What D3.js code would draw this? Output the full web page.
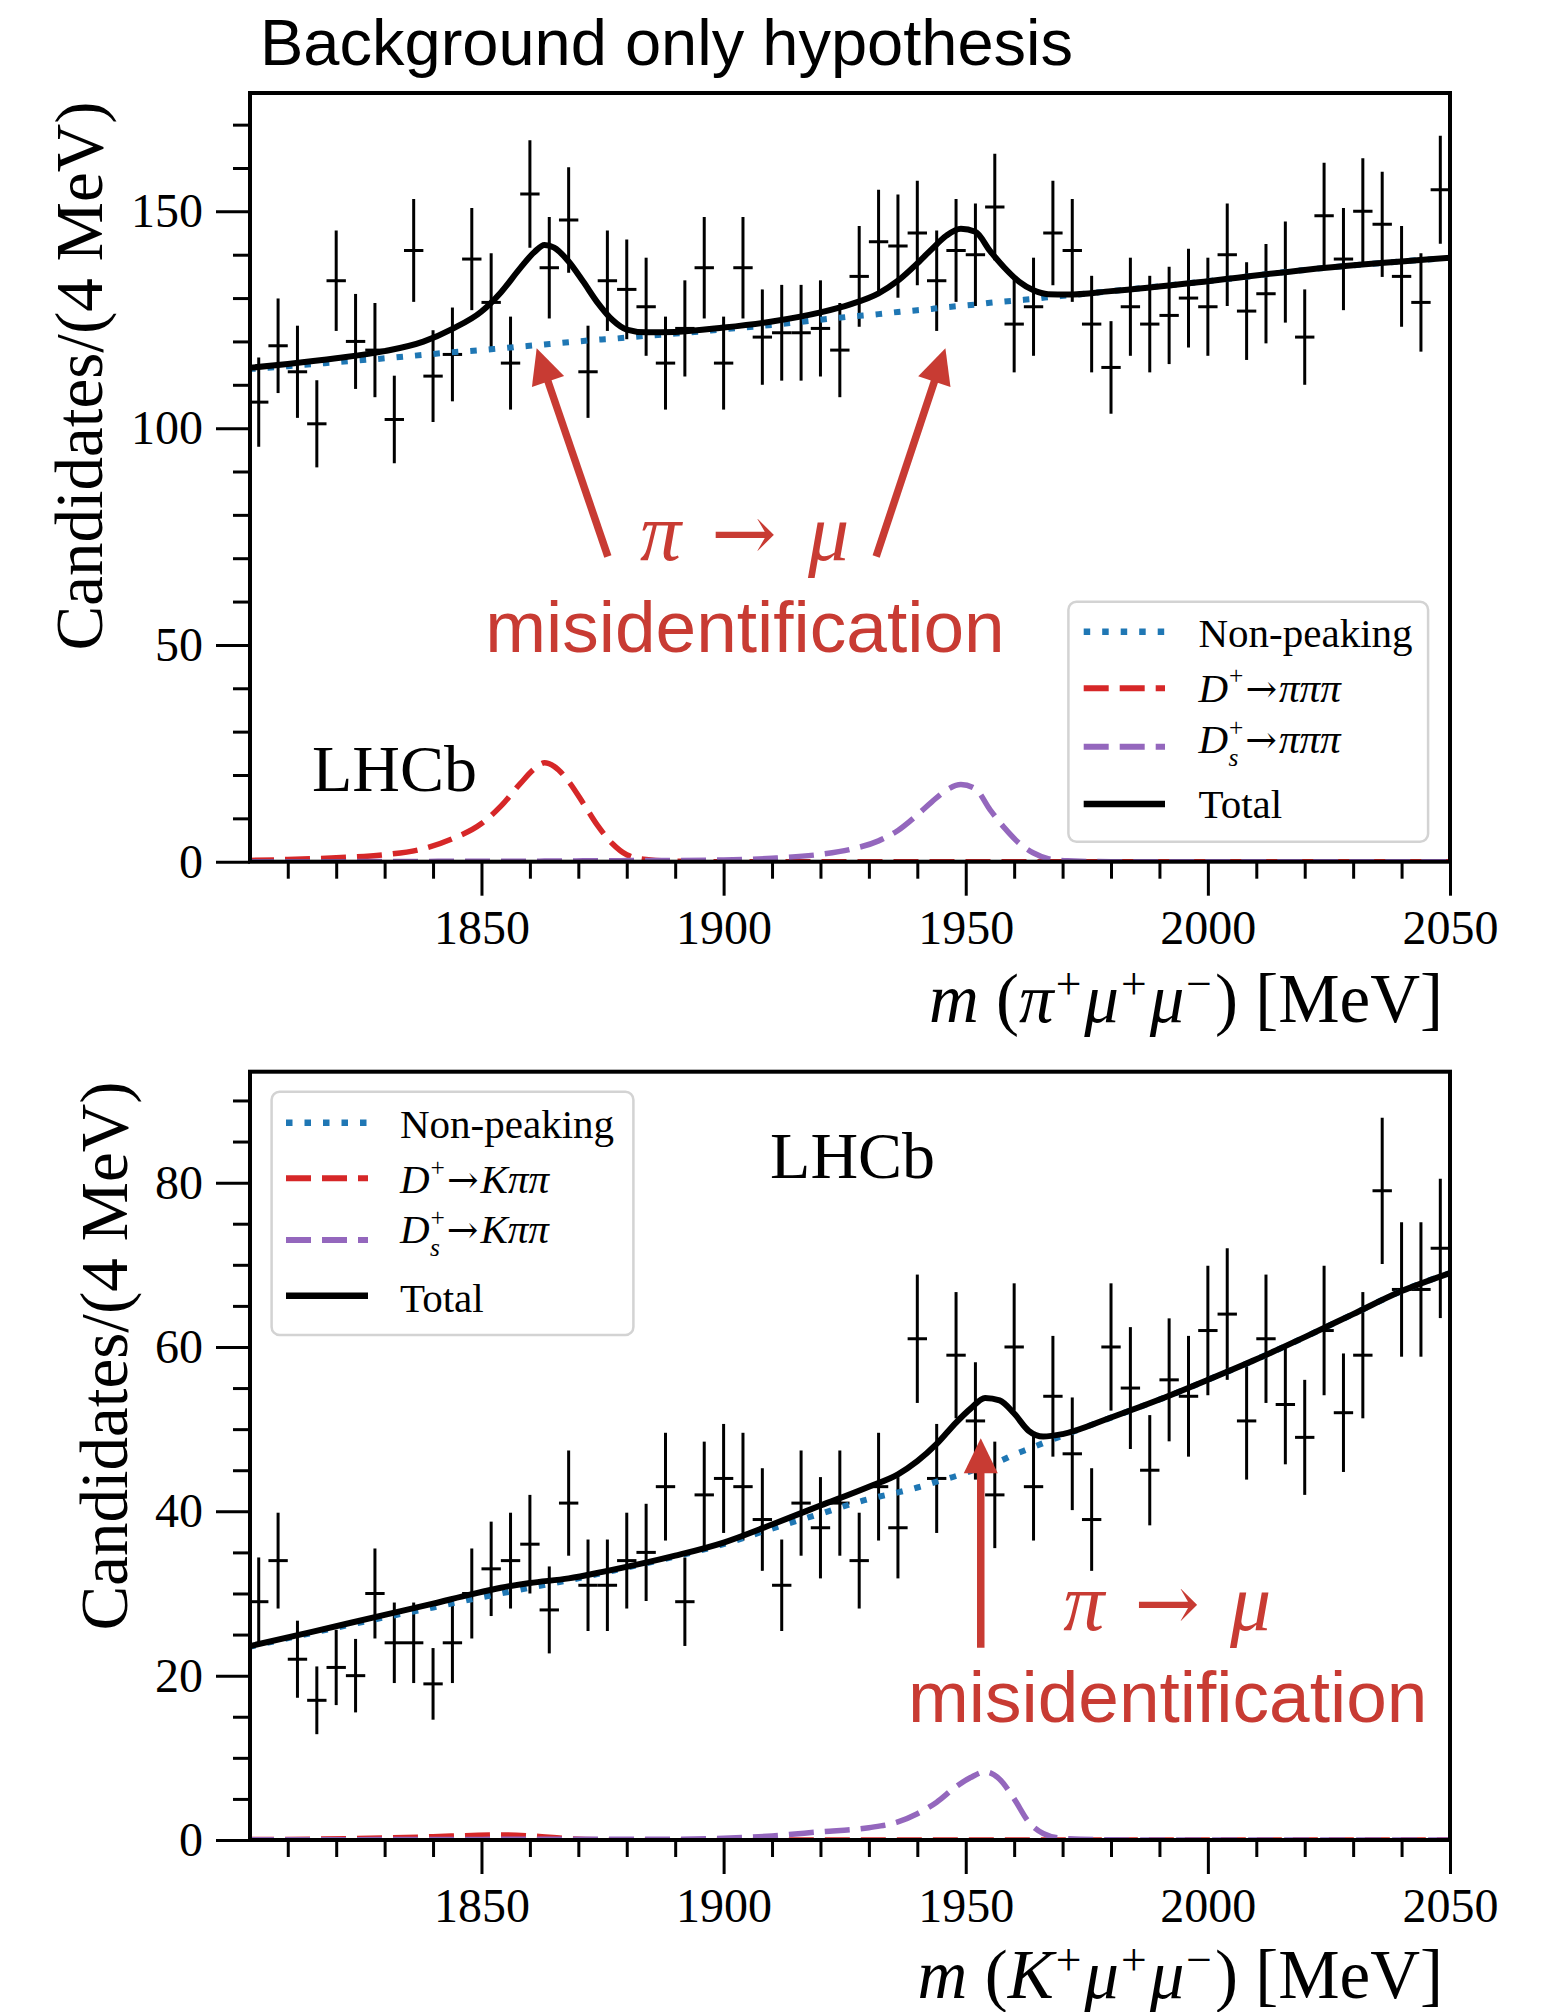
<!DOCTYPE html>
<html>
<head>
<meta charset="utf-8">
<title>Mass fits: background only hypothesis</title>
<script src="https://cdn.jsdelivr.net/npm/d3@7/dist/d3.min.js"></script>
<style>
  html, body { margin: 0; padding: 0; background: #ffffff; }
  svg { display: block; }
</style>
</head>
<body>
<svg id="chart" width="1558" height="2012"></svg>
<script>
// ---------------------------------------------------------------------------
// Data
// ---------------------------------------------------------------------------

// Centres of the 4 MeV mass bins (MeV)
const binCentres = [1804, 1808, 1812, 1816, 1820, 1824, 1828, 1832, 1836, 1840,
  1844, 1848, 1852, 1856, 1860, 1864, 1868, 1872, 1876, 1880, 1884, 1888, 1892,
  1896, 1900, 1904, 1908, 1912, 1916, 1920, 1924, 1928, 1932, 1936, 1940, 1944,
  1948, 1952, 1956, 1960, 1964, 1968, 1972, 1976, 1980, 1984, 1988, 1992, 1996,
  2000, 2004, 2008, 2012, 2016, 2020, 2024, 2028, 2032, 2036, 2040, 2044, 2048];

// Candidates per bin, m(pi+ mu+ mu-)
const pimumuCounts = [106, 119, 113, 101, 134, 120, 118, 102, 141, 112, 117, 139,
  129, 115, 154, 137, 148, 113, 134, 132, 128, 115, 123, 137, 115, 137, 121, 122,
  122, 123, 118, 135, 143, 142, 145, 134, 141, 140, 151, 124, 128, 145, 141, 124,
  114, 128, 124, 126, 130, 128, 140, 127, 131, 136, 121, 149, 139, 150, 147, 135,
  129, 155];

// Candidates per bin, m(K+ mu+ mu-)
const kmumuCounts = [29, 34, 22, 17, 21, 20, 30, 24, 24, 19, 24, 30, 33, 34, 36,
  28, 41, 31, 31, 34, 35, 43, 29, 42, 44, 43, 39, 31, 41, 38, 41, 34, 43, 38, 61,
  44, 59, 51, 42, 60, 43, 54, 47, 39, 60, 55, 45, 56, 54, 62, 64, 51, 61, 53, 49,
  62, 52, 59, 79, 67, 67, 72];

// Fit components, pi mu mu sample (mass grid in MeV, yields per 4 MeV)
const pimumuFitMass = [1802, 1810, 1820, 1830, 1838, 1844, 1850, 1854, 1858, 1861,
  1863, 1865, 1868, 1871, 1874, 1877, 1880, 1884, 1890, 1900, 1910, 1920, 1926,
  1932, 1936, 1940, 1943, 1946, 1949, 1952, 1955, 1958, 1961, 1964, 1967, 1971,
  1980, 2000, 2020, 2050];
const pimumuNonPeaking = [113.6, 114.3, 115.2, 116.1, 116.9, 117.5, 118.0, 118.4,
  118.8, 119.1, 119.3, 119.5, 119.8, 120.1, 120.4, 120.6, 120.9, 121.3, 121.8,
  122.8, 123.8, 125.0, 125.7, 126.3, 126.8, 127.2, 127.5, 127.9, 128.2, 128.5,
  128.9, 129.2, 129.5, 129.8, 130.2, 130.6, 131.6, 133.9, 136.5, 139.3];
const pimumuDplus = [0.3, 0.5, 0.9, 1.6, 3.0, 5.3, 8.8, 12.8, 18.0, 21.5, 22.8,
  22.0, 18.5, 13.5, 8.3, 4.2, 1.6, 0.5, 0.1, 0, 0, 0, 0, 0, 0, 0, 0, 0, 0, 0, 0,
  0, 0, 0, 0, 0, 0, 0, 0, 0];
const pimumuDs = [0, 0, 0, 0.05, 0.05, 0.1, 0.1, 0.1, 0.1, 0.1, 0.15, 0.15, 0.15,
  0.2, 0.2, 0.2, 0.25, 0.3, 0.3, 0.4, 0.8, 1.7, 2.8, 4.8, 7.2, 10.8, 13.8, 16.5,
  17.8, 16.8, 12.0, 7.8, 4.3, 2.0, 0.7, 0.2, 0, 0, 0, 0];

// Fit components, K mu mu sample
const kmumuFitMass = [1802, 1815, 1830, 1840, 1848, 1854, 1860, 1868, 1875, 1890,
  1900, 1910, 1920, 1930, 1936, 1940, 1944, 1948, 1951, 1954, 1957, 1960, 1963,
  1966, 1970, 1980, 1990, 2000, 2010, 2020, 2030, 2040, 2050];
const kmumuNonPeaking = [23.5, 25.2, 27.1, 28.3, 29.3, 30.0, 30.7, 31.6, 32.5,
  34.5, 36.0, 37.9, 39.7, 41.5, 42.3, 42.9, 43.6, 44.3, 44.9, 45.5, 46.1, 46.9,
  47.6, 48.3, 49.2, 51.4, 53.6, 56.0, 58.5, 61.2, 64.0, 66.8, 69.0];
const kmumuDplus = [0.05, 0.1, 0.25, 0.4, 0.55, 0.62, 0.5, 0.15, 0.03, 0, 0, 0, 0,
  0, 0, 0, 0, 0, 0, 0, 0, 0, 0, 0, 0, 0, 0, 0, 0, 0, 0, 0, 0];
const kmumuDs = [0.02, 0.03, 0.05, 0.06, 0.07, 0.08, 0.08, 0.09, 0.1, 0.1, 0.2,
  0.5, 1.0, 1.5, 2.2, 3.2, 4.6, 6.5, 7.6, 8.3, 7.4, 5.0, 2.2, 0.8, 0.2, 0.02, 0,
  0, 0, 0, 0, 0, 0];

// Axis ticks
const massMajorTicks = [1850, 1900, 1950, 2000, 2050];
const massMinorTicks = [1810, 1820, 1830, 1840, 1860, 1870, 1880, 1890, 1910,
  1920, 1930, 1940, 1960, 1970, 1980, 1990, 2010, 2020, 2030, 2040];
const pimumuMajorTicks = [0, 50, 100, 150];
const pimumuMinorTicks = [10, 20, 30, 40, 60, 70, 80, 90, 110, 120, 130, 140, 160, 170];
const kmumuMajorTicks = [0, 20, 40, 60, 80];
const kmumuMinorTicks = [5, 10, 15, 25, 30, 35, 45, 50, 55, 65, 70, 75, 85, 90];

// ---------------------------------------------------------------------------
// Style
// ---------------------------------------------------------------------------
const SERIF = "'Liberation Serif', 'Times New Roman', serif";
const ARROW_FONT = "'DejaVu Serif', 'Liberation Serif', serif";
const SANS = "'Liberation Sans', Arial, Helvetica, sans-serif";
const NOTE_RED = "#c83b33";
const STYLE = {
  bkg:   { stroke: "#1f77b4", width: 6,   dash: "6.5 12" },
  dplus: { stroke: "#d62728", width: 5.5, dash: "25 11" },
  ds:    { stroke: "#9467bd", width: 5.5, dash: "25 11" },
  total: { stroke: "#000000", width: 6,   dash: null }
};

const svg = d3.select("#chart");
const PLOT_LEFT = 250, PLOT_RIGHT = 1450;
const x = d3.scaleLinear().domain([1802.2, 2050]).range([PLOT_LEFT, PLOT_RIGHT]);

// Title
svg.append("text")
  .attr("x", 260).attr("y", 65)
  .attr("font-family", SANS).attr("font-size", 65)
  .attr("fill", "#000")
  .text("Background only hypothesis");

// Writes a run of styled pieces (italic / superscript / subscript / arrow) into a text node
function richText(textSel, segs, size, opts) {
  const o = Object.assign({ scale: 0.62, sup: 0.42, sub: 0.3 }, opts || {});
  let shift = 0;
  segs.forEach(s => {
    const small = s.sup || s.sub;
    const target = s.sup ? -o.sup * size : (s.sub ? o.sub * size : 0);
    const ts = textSel.append("tspan")
      .attr("font-size", small ? size * o.scale : size)
      .attr("dy", target - shift)
      .text(s.t);
    if (s.it) ts.attr("font-style", "italic");
    if (s.arrow) ts.attr("font-family", ARROW_FONT).attr("font-size", size * 0.92);
    if (s.dx) ts.attr("dx", s.dx);
    shift = target;
  });
}

function styleStroke(sel, st) {
  sel.attr("fill", "none")
    .attr("stroke", st.stroke)
    .attr("stroke-width", st.width)
    .attr("stroke-linejoin", "round");
  if (st.dash) sel.attr("stroke-dasharray", st.dash);
  return sel;
}

function drawArrow(g, x1, y1, x2, y2) {
  const dx = x2 - x1, dy = y2 - y1, L = Math.hypot(dx, dy);
  const ux = dx / L, uy = dy / L;
  const headLen = 35, headW = 34;
  const bx = x2 - ux * headLen, by = y2 - uy * headLen;
  g.append("line")
    .attr("x1", x1).attr("y1", y1)
    .attr("x2", bx + ux * 3).attr("y2", by + uy * 3)
    .attr("stroke", NOTE_RED).attr("stroke-width", 7.5);
  g.append("path")
    .attr("d", `M${x2},${y2}L${bx - uy * headW / 2},${by + ux * headW / 2}L${bx + uy * headW / 2},${by - ux * headW / 2}Z`)
    .attr("fill", NOTE_RED);
}

function drawPanel(cfg) {
  const y = d3.scaleLinear().domain([0, cfg.yMax]).range([cfg.bottom, cfg.top]);
  const g = svg.append("g");

  const clipId = cfg.id + "-clip";
  svg.append("clipPath").attr("id", clipId)
    .append("rect")
    .attr("x", PLOT_LEFT).attr("y", cfg.top)
    .attr("width", PLOT_RIGHT - PLOT_LEFT).attr("height", cfg.bottom - cfg.top);

  const inner = g.append("g").attr("clip-path", `url(#${clipId})`);

  // Data points with Poisson uncertainties and bin-width bars
  const pts = cfg.counts.map((c, i) => ({ m: binCentres[i], n: c, e: Math.sqrt(c) }));
  const dataG = inner.append("g").attr("stroke", "#000").attr("stroke-width", 3);
  dataG.selectAll("line.v").data(pts).join("line").attr("class", "v")
    .attr("x1", d => x(d.m)).attr("x2", d => x(d.m))
    .attr("y1", d => y(d.n - d.e)).attr("y2", d => y(d.n + d.e));
  dataG.selectAll("line.h").data(pts).join("line").attr("class", "h")
    .attr("x1", d => x(d.m - 2)).attr("x2", d => x(d.m + 2))
    .attr("y1", d => y(d.n)).attr("y2", d => y(d.n));

  // Fit components
  const line = d3.line().x(d => x(d[0])).y(d => y(d[1])).curve(d3.curveMonotoneX);
  const comp = arr => cfg.fitMass.map((m, i) => [m, arr[i]]);
  const totalArr = cfg.fitMass.map((m, i) => cfg.bkg[i] + cfg.dplus[i] + cfg.ds[i]);
  styleStroke(inner.append("path").attr("d", line(comp(cfg.dplus))), STYLE.dplus);
  styleStroke(inner.append("path").attr("d", line(comp(cfg.ds))), STYLE.ds);
  styleStroke(inner.append("path").attr("d", line(comp(cfg.bkg))), STYLE.bkg);
  styleStroke(inner.append("path").attr("d", line(comp(totalArr))), STYLE.total);

  // Axes
  const styleAxis = sel => {
    sel.select(".domain").remove();
    sel.selectAll(".tick line").attr("stroke", "#000").attr("stroke-width", 3);
    sel.selectAll(".tick text").attr("fill", "#000");
    sel.attr("font-family", SERIF).attr("font-size", 48);
  };
  g.append("g").attr("transform", `translate(0,${cfg.bottom})`)
    .call(d3.axisBottom(x).tickValues(massMinorTicks).tickSize(17).tickFormat(""))
    .call(styleAxis);
  g.append("g").attr("transform", `translate(0,${cfg.bottom})`)
    .call(d3.axisBottom(x).tickValues(massMajorTicks).tickSize(34).tickPadding(14).tickFormat(d3.format("d")))
    .call(styleAxis);
  g.append("g").attr("transform", `translate(${PLOT_LEFT},0)`)
    .call(d3.axisLeft(y).tickValues(cfg.minorTicks).tickSize(17).tickFormat(""))
    .call(styleAxis);
  g.append("g").attr("transform", `translate(${PLOT_LEFT},0)`)
    .call(d3.axisLeft(y).tickValues(cfg.majorTicks).tickSize(34).tickPadding(13).tickFormat(d3.format("d")))
    .call(styleAxis);

  // Frame
  g.append("rect")
    .attr("x", PLOT_LEFT).attr("y", cfg.top)
    .attr("width", PLOT_RIGHT - PLOT_LEFT).attr("height", cfg.bottom - cfg.top)
    .attr("fill", "none").attr("stroke", "#000").attr("stroke-width", 4);

  // Axis titles
  g.append("text")
    .attr("transform", `translate(${cfg.yLabelX},${cfg.yLabelY}) rotate(-90)`)
    .attr("text-anchor", "middle")
    .attr("font-family", SERIF).attr("font-size", 67).attr("fill", "#000")
    .text("Candidates/(4 MeV)");
  const xt = g.append("text")
    .attr("x", 1443).attr("y", cfg.xLabelY)
    .attr("text-anchor", "end")
    .attr("font-family", SERIF).attr("font-size", 69).attr("fill", "#000");
  richText(xt, cfg.xLabel, 69, { scale: 0.66, sup: 0.34 });

  // Experiment label
  g.append("text")
    .attr("x", x(cfg.lhcb[0])).attr("y", y(cfg.lhcb[1]))
    .attr("font-family", SERIF).attr("font-size", 66).attr("fill", "#000")
    .text("LHCb");

  // Legend
  const L = cfg.legend;
  const lg = g.append("g");
  lg.append("rect")
    .attr("x", L.x).attr("y", L.y).attr("width", L.w).attr("height", L.h)
    .attr("rx", 8).attr("ry", 8)
    .attr("fill", "#ffffff").attr("fill-opacity", 0.8)
    .attr("stroke", "#d3d3d3").attr("stroke-width", 2.5);
  L.rows.forEach(r => {
    const st = STYLE[r.kind];
    styleStroke(lg.append("line")
      .attr("x1", L.sampleX[0]).attr("x2", L.sampleX[1])
      .attr("y1", r.lineY).attr("y2", r.lineY), st)
      .attr("stroke-width", st.width + 0.5);
    const t = lg.append("text")
      .attr("x", L.textX).attr("y", r.textY)
      .attr("font-family", SERIF).attr("font-size", 41).attr("fill", "#000");
    richText(t, r.segs, 41);
  });

  // Mis-identification annotation
  const note = g.append("g");
  cfg.arrows.forEach(a => drawArrow(note, x(a[0]), y(a[1]), x(a[2]), y(a[3])));
  const n = cfg.note;
  const by = y(n.symbolsY);
  [["π", n.piX, "italic", SERIF, 82], ["→", n.arrowX, "normal", ARROW_FONT, 78], ["μ", n.muX, "italic", SERIF, 82]]
    .forEach(([s, mx, fs, ff, sz]) => {
      note.append("text")
        .attr("x", x(mx)).attr("y", by)
        .attr("text-anchor", "middle")
        .attr("font-family", ff).attr("font-size", sz).attr("font-style", fs)
        .attr("fill", NOTE_RED)
        .text(s);
    });
  note.append("text")
    .attr("x", x(n.textX)).attr("y", y(n.textY))
    .attr("text-anchor", "middle")
    .attr("font-family", SANS).attr("font-size", 73)
    .attr("fill", NOTE_RED)
    .text("misidentification");
}

const legendRows = decay => [
  { kind: "bkg", segs: [{ t: "Non-peaking" }] },
  { kind: "dplus", segs: [{ t: "D", it: 1 }, { t: "+", sup: 1, dx: 1 }, { t: "→", arrow: 1, dx: 2 }].concat(decay) },
  { kind: "ds", segs: [{ t: "D", it: 1 }, { t: "+", sup: 1, dx: 1 }, { t: "s", it: 1, sub: 1, dx: -15 }, { t: "→", arrow: 1, dx: 7 }].concat(decay) },
  { kind: "total", segs: [{ t: "Total" }] }
];

// Upper panel: pi+ mu+ mu-
drawPanel({
  id: "pimumu",
  top: 93, bottom: 861.7, yMax: 177.3,
  counts: pimumuCounts,
  fitMass: pimumuFitMass, bkg: pimumuNonPeaking, dplus: pimumuDplus, ds: pimumuDs,
  majorTicks: pimumuMajorTicks, minorTicks: pimumuMinorTicks,
  yLabelX: 102, yLabelY: 376,
  xLabelY: 1022,
  xLabel: [{ t: "m", it: 1 }, { t: " (" }, { t: "π", it: 1 }, { t: "+", sup: 1, dx: 2 }, { t: "μ", it: 1, dx: 3 },
           { t: "+", sup: 1, dx: 2 }, { t: "μ", it: 1, dx: 3 }, { t: "−", sup: 1, dx: 2 }, { t: ") [MeV]", dx: 3 }],
  lhcb: [1815.0, 16.3],
  legend: {
    x: 1068.4, y: 601.7, w: 359.7, h: 240,
    sampleX: [1083.7, 1165], textX: 1198.5,
    rows: legendRows([{ t: "πππ", it: 1, dx: 2 }]).map((r, i) => Object.assign(r, {
      lineY: [631.7, 688.3, 746.7, 804][i],
      textY: [646.7, 701.7, 753.3, 818.3][i]
    }))
  },
  arrows: [[1876.1, 70.4, 1861.4, 118.4], [1931.5, 70.4, 1945.8, 118.4]],
  note: { piX: 1887.0, arrowX: 1904.2, muX: 1921.7, symbolsY: 69.6, textX: 1904.4, textY: 48.4 }
});

// Lower panel: K+ mu+ mu-
drawPanel({
  id: "kmumu",
  top: 1071.7, bottom: 1840, yMax: 93.5,
  counts: kmumuCounts,
  fitMass: kmumuFitMass, bkg: kmumuNonPeaking, dplus: kmumuDplus, ds: kmumuDs,
  majorTicks: kmumuMajorTicks, minorTicks: kmumuMinorTicks,
  yLabelX: 127, yLabelY: 1356,
  xLabelY: 1998,
  xLabel: [{ t: "m", it: 1 }, { t: " (" }, { t: "K", it: 1 }, { t: "+", sup: 1, dx: 2 }, { t: "μ", it: 1, dx: 3 },
           { t: "+", sup: 1, dx: 2 }, { t: "μ", it: 1, dx: 3 }, { t: "−", sup: 1, dx: 2 }, { t: ") [MeV]", dx: 3 }],
  lhcb: [1909.6, 80.6],
  legend: {
    x: 271.6, y: 1091.7, w: 361.8, h: 243.3,
    sampleX: [286, 368], textX: 400,
    rows: legendRows([{ t: "Kππ", it: 1, dx: 2 }]).map((r, i) => Object.assign(r, {
      lineY: [1122.7, 1178.3, 1240, 1295.7][i],
      textY: [1138.3, 1193.3, 1243.3, 1311.7][i]
    }))
  },
  arrows: [[1953.1, 23.4, 1953.1, 48.9]],
  note: { piX: 1974.4, arrowX: 1991.6, muX: 2008.8, symbolsY: 25.6, textX: 1991.7, textY: 14.4 }
});
</script>
</body>
</html>
